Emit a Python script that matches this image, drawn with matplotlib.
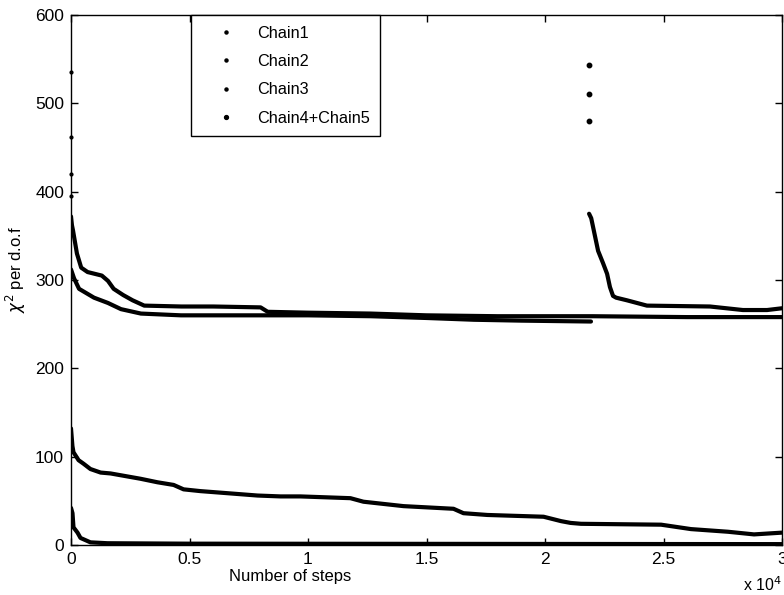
import matplotlib
matplotlib.use('Agg')
import matplotlib.pyplot as plt
from matplotlib.lines import Line2D

plt.rcParams['font.family'] = ['Liberation Sans', 'DejaVu Sans']

# ---------------- data ----------------
legend_labels = ['Chain1', 'Chain2', 'Chain3', 'Chain4+Chain5']

chain1_x = [0, 40, 85, 250, 430, 700, 1000, 1300, 1560, 1800, 2200, 2600, 3090,
            4660, 6000, 8000, 8300, 10000, 12650, 15000, 18000, 22000, 26000, 30000]
chain1_y = [372, 362, 356, 330, 314, 309, 307, 305, 299, 290, 283, 277, 271,
            270, 270, 269, 264, 263, 262, 260, 259, 259, 258, 258]

chain2_x = [0, 60, 105, 320, 530, 820, 1250, 1670, 2090, 2510, 2930, 3650, 4330, 4750,
            5460, 6430, 7870, 8840, 9680, 11790, 12340, 14030, 16140, 16560, 17570,
            19940, 20680, 21080, 21520, 24900, 26160, 27720, 28820, 30000]
chain2_y = [132, 112, 105, 96, 92, 86, 82, 81, 79, 77, 75, 71, 68, 63,
            61, 59, 56, 55, 55, 53, 49, 44, 41, 36, 34,
            32, 27, 25, 24, 23, 18, 15, 12, 14]

chain3_x = [0, 63, 105, 275, 400, 820, 1540, 5000, 30000]
chain3_y = [42, 36, 20, 14, 8, 3, 2, 1.5, 1]

chain4_x = [0, 127, 340, 970, 1560, 2110, 2950, 4640, 8000, 10000, 12650,
            15000, 17000, 19000, 21940]
chain4_y = [312, 302, 290, 280, 274, 267, 262, 260, 260, 260, 259,
            257, 255, 254, 253]

# early isolated samples sitting on the left axis
start_x = [0, 0, 0, 0]
start_y = [535, 462, 420, 395]

chain5_jump_x = [21860, 21860, 21860]
chain5_jump_y = [543, 511, 480]
chain5_x = [21860, 21950, 22240, 22450, 22620, 22740, 22870, 23000, 23460, 24300,
            26960, 28350, 29370, 30000]
chain5_y = [375, 370, 333, 319, 307, 292, 282, 280, 277, 271,
            270, 266, 266, 268]

xticks = [0, 5000, 10000, 15000, 20000, 25000, 30000]
xtick_labels = ['0', '0.5', '1', '1.5', '2', '2.5', '3']
yticks = [0, 100, 200, 300, 400, 500, 600]

# ---------------- figure ----------------
fig = plt.figure(figsize=(7.84, 5.95), dpi=100)
ax = fig.add_axes([71 / 784, 50 / 595, 711 / 784, 530 / 595])

lw = 3.0
kw = dict(color='black', lw=lw, solid_capstyle='round', solid_joinstyle='round')
ax.plot(chain1_x, chain1_y, **kw)
ax.plot(chain2_x, chain2_y, **kw)
ax.plot(chain3_x, chain3_y, **kw)
ax.plot(chain4_x, chain4_y, **kw)
ax.plot(chain5_x, chain5_y, **kw)
ax.plot(chain5_jump_x, chain5_jump_y, ls='none', marker='o', ms=3.2, color='black')
ax.plot(start_x, start_y, ls='none', marker='o', ms=2.0, color='black', clip_on=False)

ax.set_xlim(0, 30000)
ax.set_ylim(0, 600)
ax.set_xticks(xticks)
ax.set_xticklabels(xtick_labels)
ax.set_yticks(yticks)
ax.tick_params(direction='in', length=5, width=1, top=True, right=True,
               labelsize=12.5, pad=5, colors='black')
for sp in ax.spines.values():
    sp.set_linewidth(1.0)
    sp.set_color('black')

ax.set_xlabel('Number of steps', fontsize=12)
ax.xaxis.set_label_coords(0.308, -0.045)
ax.set_ylabel(r'$\chi^2$ per d.o.f', fontsize=12)
ax.yaxis.set_label_coords(-0.06, 0.52)
ax.text(1.0, -0.075, r'x 10$^4$', transform=ax.transAxes, ha='right', va='center',
        fontsize=11.5)

handles = [Line2D([], [], ls='none', marker='o', ms=ms, color='black')
           for ms in (2.2, 2.2, 2.2, 2.8)]
leg = ax.legend(handles, legend_labels, loc='upper left', bbox_to_anchor=(0.169, 1.0),
                fontsize=11.7, frameon=True, fancybox=False, framealpha=1,
                edgecolor='black', borderpad=0.65, handlelength=3.0,
                handletextpad=0.41, labelspacing=0.82, borderaxespad=0)
leg.get_frame().set_linewidth(1.0)

fig.savefig('out.png', dpi=100)
